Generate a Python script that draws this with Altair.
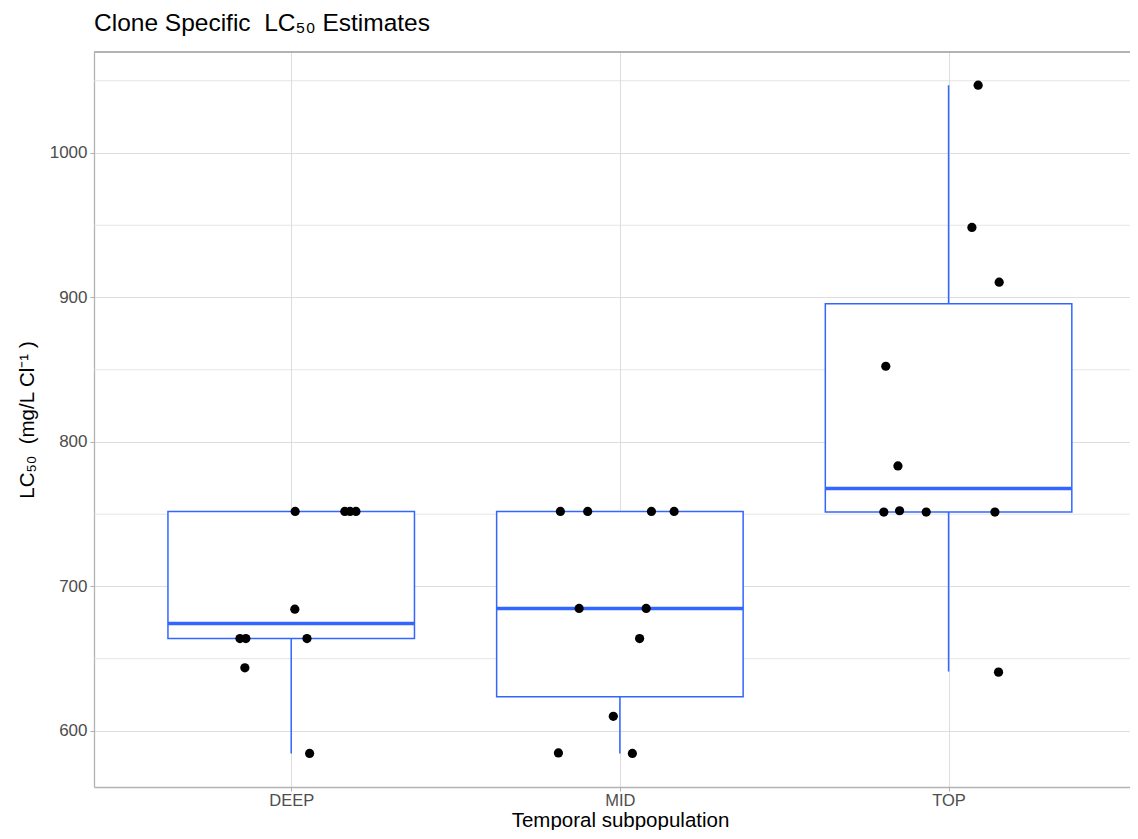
import altair as alt
import pandas as pd

# ---- data ----
groups = ["DEEP", "MID", "TOP"]

# jittered point positions (category index + horizontal jitter) and values
pt_group = ["DEEP"] * 10 + ["MID"] * 10 + ["TOP"] * 10
pt_jitter = [0.012, 0.163, 0.179, 0.197, 0.011, -0.156, -0.138, 0.048, -0.141, 0.056,
             -0.181, -0.098, 0.096, 0.165, -0.124, 0.080, 0.060, -0.020, -0.187, 0.038,
             0.090, 0.071, 0.154, -0.191, -0.154, -0.197, -0.149, -0.068, 0.141, 0.152]
pt_value = [751.9, 751.9, 751.9, 751.9, 684.3, 663.9, 663.9, 663.9, 643.7, 584.4,
            751.9, 751.9, 751.9, 751.9, 684.8, 684.8, 663.9, 610.1, 584.8, 584.4,
            1046.9, 948.5, 910.6, 852.4, 783.4, 751.5, 752.4, 751.5, 751.5, 640.7]

# box statistics
box_lower = [584.4, 584.4, 641.1]
box_q1 = [663.9, 623.7, 751.5]
box_median = [674.3, 684.8, 767.8]
box_q3 = [751.9, 751.9, 895.6]
box_upper = [751.9, 751.9, 1046.9]

y_ticks = [600, 700, 800, 900, 1000]
y_minor = [650, 750, 850, 950, 1050]

# ---- tables ----
pts = pd.DataFrame({
    "group": pt_group,
    "x": [groups.index(g) + 1 + j for g, j in zip(pt_group, pt_jitter)],
    "y": pt_value,
})
boxes = pd.DataFrame({
    "group": groups,
    "center": [i + 1 for i in range(len(groups))],
    "lower": box_lower, "q1": box_q1, "median": box_median,
    "q3": box_q3, "upper": box_upper,
})
minor = pd.DataFrame({"y": y_minor})

W, H = 1036, 735
FONT = "Liberation Sans"
BLUE = "#3366FF"
GRID = "#DEDEDE"
BORDER = "#B3B3B3"

xscale = alt.Scale(domain=[0.4, 3.552], nice=False, zero=False)
yscale = alt.Scale(domain=[561.2, 1069.9], nice=False, zero=False)

label_expr = "[" + ",".join("'%s'" % g for g in groups) + "][datum.value - 1]"

xaxis = alt.Axis(values=[1, 2, 3], labelExpr=label_expr, title="Temporal subpopulation",
                 grid=True, gridColor=GRID, gridWidth=1.1,
                 domain=True, domainColor=BORDER, domainWidth=1.3,
                 ticks=True, tickColor=BORDER, tickSize=4, tickWidth=1.1,
                 labelColor="#4D4D4D", labelFontSize=16.5, labelFont=FONT, labelPadding=1,
                 titleColor="black", titleFontSize=20.5, titleFont=FONT, titleFontWeight="normal",
                 titleX=526, titleAlign="center", titlePadding=2)
yaxis = alt.Axis(values=y_ticks, format="d", title="LC₅₀\u00a0 (mg/L Cl⁻¹ )",
                 grid=True, gridColor=GRID, gridWidth=1.1,
                 domain=True, domainColor=BORDER, domainWidth=1.3,
                 ticks=True, tickColor=BORDER, tickSize=4, tickWidth=1.1,
                 labelColor="#4D4D4D", labelFontSize=17, labelFont=FONT, labelPadding=3,
                 titleColor="black", titleFontSize=20.5, titleFont=FONT, titleFontWeight="normal",
                 titlePadding=12)

minor_grid = alt.Chart(minor).mark_rule(color=GRID, strokeWidth=0.8).encode(
    y=alt.Y("y:Q", scale=yscale, axis=yaxis)
)

box_base = alt.Chart(boxes).transform_calculate(
    xlo="datum.center - 0.375", xhi="datum.center + 0.375"
)

whisk_lo = box_base.mark_rule(color=BLUE, strokeWidth=1.5).encode(
    x=alt.X("center:Q", scale=xscale, axis=xaxis),
    y=alt.Y("lower:Q", scale=yscale, axis=yaxis), y2="q1:Q")
whisk_hi = box_base.mark_rule(color=BLUE, strokeWidth=1.5).encode(
    x=alt.X("center:Q", scale=xscale, axis=xaxis),
    y=alt.Y("q3:Q", scale=yscale, axis=yaxis), y2="upper:Q")
rect = box_base.mark_rect(fill="white", stroke=BLUE, strokeWidth=1.5).encode(
    x=alt.X("xlo:Q", scale=xscale, axis=xaxis), x2="xhi:Q",
    y=alt.Y("q1:Q", scale=yscale, axis=yaxis), y2="q3:Q")
med = box_base.mark_rule(color=BLUE, strokeWidth=3.5).encode(
    x=alt.X("xlo:Q", scale=xscale, axis=xaxis), x2="xhi:Q",
    y=alt.Y("median:Q", scale=yscale, axis=yaxis))

points = alt.Chart(pts).mark_circle(size=85, color="black", opacity=1).encode(
    x=alt.X("x:Q", scale=xscale, axis=xaxis),
    y=alt.Y("y:Q", scale=yscale, axis=yaxis))

top_border = alt.Chart(minor).mark_rule(color=BORDER, strokeWidth=1.3).encode(
    x=alt.value(0), x2=alt.value(W), y=alt.value(0))

chart = alt.layer(minor_grid, whisk_lo, whisk_hi, rect, med, points, top_border).properties(
    width=W, height=H,
    title=alt.TitleParams("Clone Specific\u00a0 LC₅₀ Estimates", anchor="start", frame="group",
                          font=FONT, fontSize=24.5, fontWeight="normal", color="black", offset=15),
    autosize=alt.AutoSizeParams(type="none"),
    padding={"left": 86, "top": 44, "right": 0, "bottom": 43},
).configure_view(stroke=None)

chart.save("out.html", embed_options={"renderer": "svg", "actions": False})
